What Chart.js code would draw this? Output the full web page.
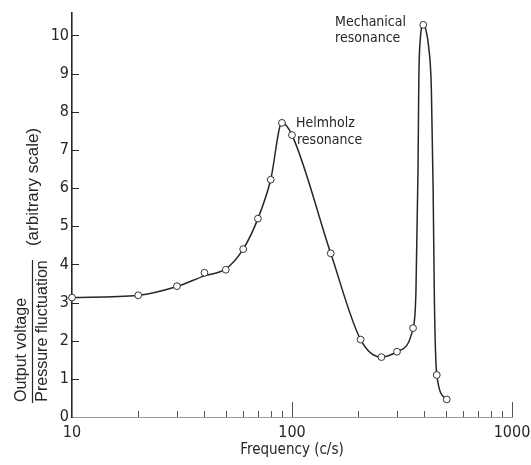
<!DOCTYPE html>
<html>
<head>
<meta charset="utf-8">
<script src="https://cdn.jsdelivr.net/npm/chart.js@4.4.1/dist/chart.umd.min.js"></script>
<style>
  html, body { margin: 0; padding: 0; background: #fff; }
  #wrap { width: 531px; height: 465px; }
</style>
</head>
<body>
<div id="wrap"><canvas id="respChart" width="531" height="465"></canvas></div>
<script>
// measured points (frequency in c/s, output / pressure in arbitrary units)
const measuredFreq = [10, 20, 30, 40, 50, 60, 70, 80, 90, 100, 150, 205, 255, 300, 355, 395, 455, 505]
const measuredLevel = [3.13, 3.19, 3.43, 3.78, 3.86, 4.40, 5.20, 6.22, 7.71, 7.39, 4.29, 2.03, 1.57, 1.71, 2.33, 10.28, 1.10, 0.46]

// hand-fitted response curve through the measurements
const curveFreq = [10, 20, 30, 40, 50, 60, 70, 80, 90, 100, 150, 205, 255, 300, 355, 366, 374, 377, 383, 395, 406, 418, 430, 438, 444, 455, 505]
const curveLevel = [3.13, 3.19, 3.42, 3.70, 3.88, 4.40, 5.20, 6.22, 7.71, 7.39, 4.29, 2.03, 1.57, 1.71, 2.33, 3.30, 6.50, 8.80, 9.90, 10.28, 10.15, 9.70, 8.60, 6.00, 3.00, 1.10, 0.46]

// axis ticks
const freqLabels = [10, 100, 1000]
const freqMinorTicks = [20, 30, 40, 50, 60, 70, 80, 90, 200, 300, 400, 500, 600, 700, 800, 900]
const levelTicks = [0, 1, 2, 3, 4, 5, 6, 7, 8, 9, 10]

const NARROW = '"DejaVu Sans Condensed", "DejaVu Sans", sans-serif'
const REGULAR = '"Liberation Sans", Arial, sans-serif'
const INK = '#262626'

// inward tick marks, y-axis caption and the two resonance notes
const decorations = {
  id: 'decorations',
  afterDraw(chart) {
    const ctx = chart.ctx
    const x = chart.scales.x
    const y = chart.scales.y
    const area = chart.chartArea

    ctx.save()
    ctx.strokeStyle = '#555'
    ctx.lineWidth = 1
    ctx.beginPath()
    freqMinorTicks.forEach(f => {
      const px = Math.round(x.getPixelForValue(f)) + 0.5
      ctx.moveTo(px, area.bottom)
      ctx.lineTo(px, area.bottom - 6)
    })
    freqLabels.slice(1).forEach(f => {
      const px = Math.round(x.getPixelForValue(f)) + 0.5
      ctx.moveTo(px, area.bottom)
      ctx.lineTo(px, area.bottom - 15)
    })
    ctx.stroke()

    ctx.strokeStyle = INK
    ctx.lineWidth = 1.2
    ctx.beginPath()
    levelTicks.slice(1).forEach(v => {
      const py = Math.round(y.getPixelForValue(v)) + 0.5
      ctx.moveTo(area.left, py)
      ctx.lineTo(area.left + 7, py)
    })
    ctx.stroke()

    // rotated y caption: fraction plus "(arbitrary scale)"
    ctx.fillStyle = INK
    ctx.font = '16px ' + REGULAR
    ctx.save()
    ctx.translate(26, 402)
    ctx.rotate(-Math.PI / 2)
    ctx.textAlign = 'left'
    ctx.textBaseline = 'alphabetic'
    ctx.fillText('Output voltage', 0, 0)
    ctx.restore()

    ctx.save()
    ctx.translate(47, 331)
    ctx.rotate(-Math.PI / 2)
    ctx.textAlign = 'center'
    ctx.fillText('Pressure fluctuation', 0, 0)
    ctx.restore()

    ctx.strokeStyle = INK
    ctx.lineWidth = 1.2
    ctx.beginPath()
    ctx.moveTo(32.5, 403)
    ctx.lineTo(32.5, 260)
    ctx.stroke()

    ctx.save()
    ctx.font = '17px ' + REGULAR
    ctx.translate(38, 187)
    ctx.rotate(-Math.PI / 2)
    ctx.textAlign = 'center'
    ctx.fillText('(arbitrary scale)', 0, 0)
    ctx.restore()

    // notes beside the two peaks
    ctx.font = '14px ' + NARROW
    ctx.textAlign = 'left'
    const hx = x.getPixelForValue(101) + 3
    const hy = y.getPixelForValue(7.6)
    ctx.fillText('Helmholz', hx, hy)
    ctx.fillText('resonance', hx + 1, hy + 17)

    const mx = x.getPixelForValue(157)
    const my = y.getPixelForValue(10.26)
    ctx.fillText('Mechanical', mx, my)
    ctx.fillText('resonance', mx, my + 16)
    ctx.restore()
  }
}

new Chart(document.getElementById('respChart').getContext('2d'), {
  type: 'line',
  data: {
    datasets: [
      {
        label: 'measured',
        data: measuredFreq.map((f, i) => ({ x: f, y: measuredLevel[i] })),
        showLine: false,
        pointRadius: 3.4,
        pointBackgroundColor: '#fff',
        pointBorderColor: '#333',
        pointBorderWidth: 1,
        clip: false
      },
      {
        label: 'curve',
        data: curveFreq.map((f, i) => ({ x: f, y: curveLevel[i] })),
        borderColor: INK,
        borderWidth: 1.5,
        pointRadius: 0,
        cubicInterpolationMode: 'monotone',
        fill: false,
        clip: false
      }
    ]
  },
  options: {
    responsive: false,
    animation: false,
    events: [],
    layout: { padding: { top: 11, right: 19, left: 0, bottom: 0 } },
    plugins: {
      legend: { display: false },
      tooltip: { enabled: false }
    },
    scales: {
      x: {
        type: 'logarithmic',
        min: 10,
        max: 1000,
        grid: { display: false, drawTicks: false },
        border: { display: true, color: '#999', width: 1 },
        afterBuildTicks: scale => { scale.ticks = freqLabels.map(v => ({ value: v })) },
        afterFit: scale => {
          scale.height = 48
          scale.paddingLeft = 0
          scale.paddingRight = 0
        },
        ticks: {
          autoSkip: false,
          maxRotation: 0,
          padding: 6,
          color: INK,
          font: { family: NARROW, size: 16 },
          callback: v => String(v)
        },
        title: {
          display: true,
          text: 'Frequency (c/s)',
          color: INK,
          font: { family: NARROW, size: 15 },
          padding: { top: 0, bottom: 6 }
        }
      },
      y: {
        type: 'linear',
        min: 0,
        max: 10.6,
        grid: { display: false, drawTicks: false },
        border: { display: true, color: INK, width: 1.6 },
        afterBuildTicks: scale => { scale.ticks = levelTicks.map(v => ({ value: v })) },
        afterFit: scale => { scale.width = 72 },
        ticks: {
          padding: 3,
          color: INK,
          font: { family: NARROW, size: 16 }
        }
      }
    }
  },
  plugins: [decorations]
})
</script>
</body>
</html>
